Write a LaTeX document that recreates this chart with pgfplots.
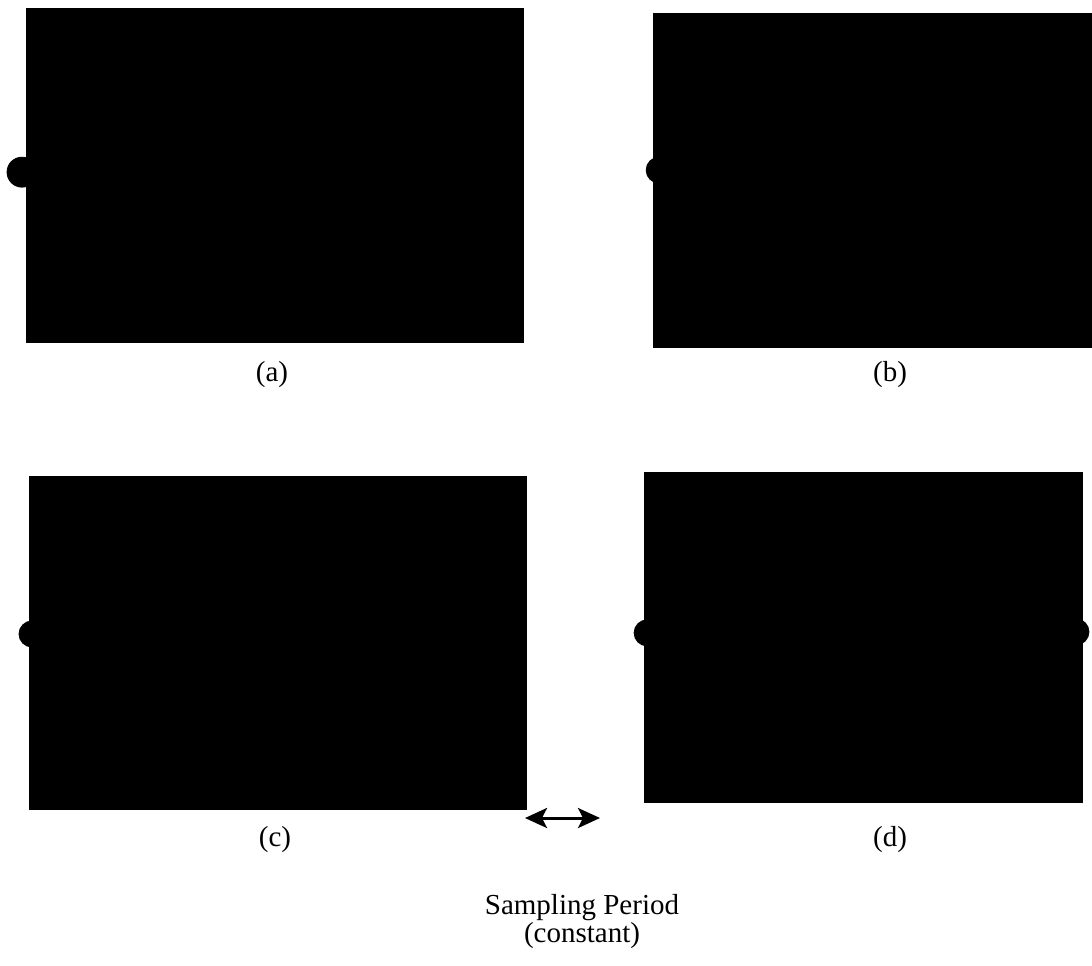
\documentclass[border=0pt]{standalone}
\usepackage{fontspec}
\setmainfont{Liberation Serif}
\usepackage{pgfplots}
\pgfplotsset{compat=1.18}
\usetikzlibrary{arrows.meta}
\pgfplotsset{panel/.style={hide axis, scale only axis, clip=false,
  xmin=0,xmax=1,ymin=0,ymax=1, enlargelimits=false, anchor=north west}}
\begin{document}
\fontsize{14.5}{17}\selectfont
\begin{tikzpicture}
\path[use as bounding box] (0pt,0pt) rectangle (546pt,-482.5pt);
% (a)
\begin{axis}[panel, at={(13pt,-4pt)}, width=249pt, height=167.5pt]
\addplot[fill=black, draw=none] coordinates {(0,0) (1,0) (1,1) (0,1)} -- cycle;
\addplot[only marks, mark=*, mark size=7.5pt, black] coordinates {(-0.008,0.51)};
\end{axis}
% (b)
\begin{axis}[panel, at={(326.5pt,-6.5pt)}, width=219.5pt, height=167.5pt]
\addplot[fill=black, draw=none] coordinates {(0,0) (1,0) (1,1) (0,1)} -- cycle;
\addplot[only marks, mark=*, mark size=6.5pt, black] coordinates {(0.014,0.531)};
\end{axis}
% (c)
\begin{axis}[panel, at={(14.5pt,-238pt)}, width=249pt, height=167pt]
\addplot[fill=black, draw=none] coordinates {(0,0) (1,0) (1,1) (0,1)} -- cycle;
\addplot[only marks, mark=*, mark size=6.5pt, black] coordinates {(0.006,0.527)};
\end{axis}
% (d)
\begin{axis}[panel, at={(322pt,-236pt)}, width=219.5pt, height=165.5pt]
\addplot[fill=black, draw=none] coordinates {(0,0) (1,0) (1,1) (0,1)} -- cycle;
\addplot[only marks, mark=*, mark size=6.5pt, black] coordinates {(0.007,0.514) (0.984,0.517)};
\end{axis}
\node at (136pt,-187.5pt) {(a)};
\node at (445pt,-187.5pt) {(b)};
\node at (137.5pt,-420pt) {(c)};
\node at (445pt,-420pt) {(d)};
\draw[line width=1.5pt, {Stealth[length=11pt,width=10pt,inset=2.5pt]}-{Stealth[length=11pt,width=10pt,inset=2.5pt]}] (262.5pt,-409pt) -- (300pt,-409pt);
\node at (291pt,-454pt) {Sampling Period};
\node at (291pt,-468pt) {(constant)};
\end{tikzpicture}
\end{document}
